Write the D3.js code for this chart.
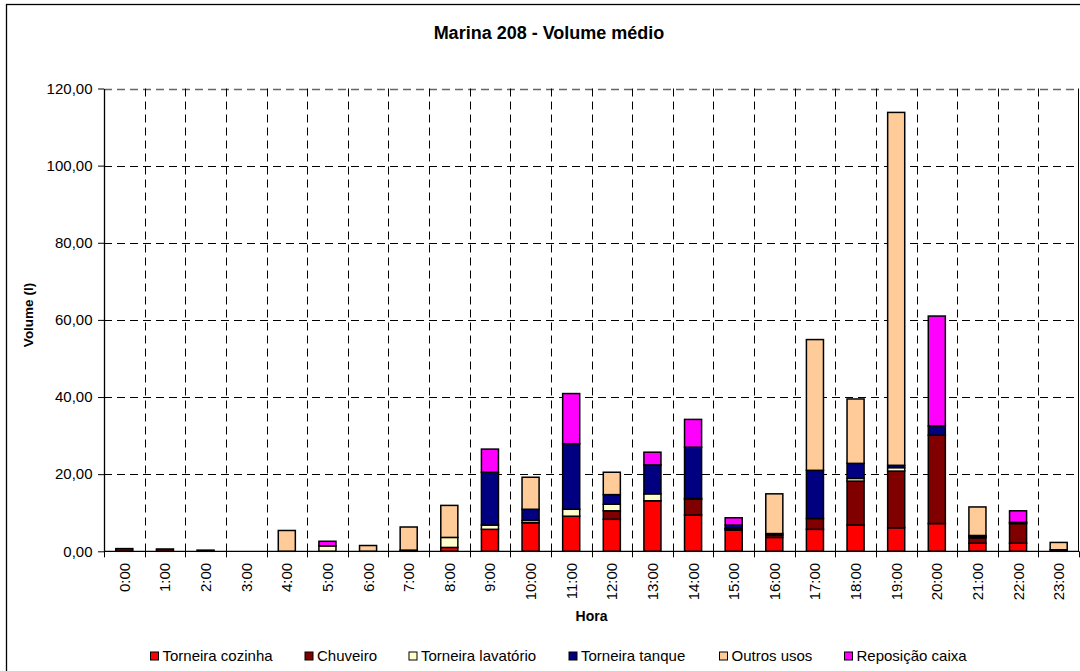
<!DOCTYPE html>
<html><head><meta charset="utf-8">
<script src="https://cdn.jsdelivr.net/npm/d3@7"></script>
<style>
body{margin:0;background:#fff;}
svg{display:block;font-family:"Liberation Sans",Arial,sans-serif;}
</style></head>
<body><svg id="c" width="1080" height="671"></svg>
<script>
const hours = ["0:00","1:00","2:00","3:00","4:00","5:00","6:00","7:00","8:00","9:00","10:00","11:00","12:00","13:00","14:00","15:00","16:00","17:00","18:00","19:00","20:00","21:00","22:00","23:00"];
const seriesNames = ["Torneira cozinha","Chuveiro","Torneira lavatório","Torneira tanque","Outros usos","Reposição caixa"];
const torneiraCozinha   = [0,0,0,0,0,0,0,0,1.0,5.7,7.4,9.1,8.3,13.1,9.4,5.5,3.6,5.7,6.8,6.1,7.2,2.1,2.1,0];
const chuveiro          = [0.7,0.6,0.3,0,0,0,0,0,0,0,0,0,2.2,0,4.1,0.3,0.6,2.8,11.4,14.7,22.9,1.4,5.1,0.4];
const torneiraLavatorio = [0,0,0,0,0,1.4,0,0.3,2.6,1.1,0.6,1.8,1.7,1.8,0.2,0.2,0,0,0.7,0.9,0,0.3,0,0];
const torneiraTanque    = [0,0,0,0,0,0,0,0,0,13.7,2.9,17.0,2.5,7.5,13.3,0.8,0.4,12.5,3.9,0.6,2.4,0.3,0.3,0];
const outrosUsos        = [0,0,0,0,5.4,0,1.5,6.0,8.3,0,8.3,0,5.8,0,0,0,10.3,33.9,16.7,91.5,0,7.4,0,1.9];
const reposicaoCaixa    = [0,0,0,0,0,1.2,0,0,0,6.0,0,13.0,0,3.3,7.2,1.9,0,0,0,0,28.5,0,3.0,0];
const yTicks = [0,20,40,60,80,100,120];
const colors = ["#FF0000","#800000","#FFFFCC","#000080","#FFCC99","#FF00FF"];

const seriesArrays = [torneiraCozinha,chuveiro,torneiraLavatorio,torneiraTanque,outrosUsos,reposicaoCaixa];
const table = hours.map((h,i)=>{const o={hora:h}; seriesNames.forEach((s,k)=>o[s]=seriesArrays[k][i]); return o;});

const svg = d3.select("#c");
const L=104, R=1079, T=88.5, B=551.3;
const x = d3.scaleBand().domain(hours).range([L,R]).paddingInner(0).paddingOuter(0);
const y = d3.scaleLinear().domain([0,120]).range([B,T]);
const fmt = v => d3.format(".2f")(v).replace(".",",");

// outer frame
svg.append("rect").attr("x",6.5).attr("y",4.5).attr("width",1200).attr("height",800)
  .attr("fill","#fff").attr("stroke","#000").attr("stroke-width",1.3);

// title
svg.append("text").attr("x",549).attr("y",39).attr("text-anchor","middle")
  .attr("font-size",18).attr("font-weight","bold").text("Marina 208 - Volume médio");

// horizontal grid
svg.append("g").selectAll("line").data(yTicks.filter(d=>d>0)).join("line")
  .attr("x1",L).attr("x2",R).attr("y1",d=>Math.round(y(d))+0.5).attr("y2",d=>Math.round(y(d))+0.5)
  .attr("stroke",d=>d===120?"#666":"#000").attr("stroke-width",d=>d===120?1.5:1)
  .attr("stroke-dasharray","8,5");

// vertical grid
svg.append("g").selectAll("line").data(hours.slice(1)).join("line")
  .attr("x1",d=>Math.round(x(d))+0.5).attr("x2",d=>Math.round(x(d))+0.5)
  .attr("y1",T).attr("y2",B)
  .attr("stroke","#000").attr("stroke-width",1).attr("stroke-dasharray","8,5");

// right border
svg.append("line").attr("x1",R-0.5).attr("x2",R-0.5).attr("y1",T).attr("y2",B).attr("stroke","#000");

// stacked bars
const stack = d3.stack().keys(seriesNames);
const stacked = stack(table);
const bw = x.bandwidth()*0.42;
svg.append("g").selectAll("g").data(stacked).join("g")
  .attr("fill",(d,i)=>colors[i])
  .selectAll("rect").data(d=>d.filter(p=>p[1]-p[0]>0)).join("rect")
  .attr("x",d=>x(d.data.hora)+(x.bandwidth()-bw)/2)
  .attr("width",bw)
  .attr("y",d=>y(d[1]))
  .attr("height",d=>Math.max(0.5,y(d[0])-y(d[1])))
  .attr("stroke","#000").attr("stroke-width",1.5);

// y axis
const ya = svg.append("g").attr("transform",`translate(${L},0)`)
  .call(d3.axisLeft(y).tickValues(yTicks).tickFormat(fmt).tickSize(6).tickSizeOuter(0));
ya.select(".domain").attr("stroke","#000").attr("stroke-width",1.3);
ya.selectAll("text").attr("font-size",15).attr("fill","#000").attr("font-family","Liberation Sans, Arial, sans-serif").attr("x",-11.5);

// x axis
const xa = svg.append("g").attr("transform",`translate(0,${B})`);
xa.append("line").attr("x1",L).attr("x2",R).attr("stroke","#000").attr("stroke-width",1.3);
xa.selectAll("line.tk").data(hours.concat(["end"])).join("line").attr("class","tk")
  .attr("x1",(d,i)=>Math.round(L+i*x.step())+0.5).attr("x2",(d,i)=>Math.round(L+i*x.step())+0.5)
  .attr("y1",0).attr("y2",6).attr("stroke","#000");
xa.selectAll("text").data(hours).join("text")
  .attr("transform",d=>`translate(${x(d)+x.bandwidth()/2+5.5},11.5) rotate(-90)`)
  .attr("text-anchor","end").attr("font-size",15).text(d=>d);

// axis titles
svg.append("text").attr("x",591.5).attr("y",620.5).attr("text-anchor","middle")
  .attr("font-size",14).attr("font-weight","bold").text("Hora");
svg.append("text").attr("transform","translate(33,315) rotate(-90)").attr("text-anchor","middle")
  .attr("font-size",13.5).attr("font-weight","bold").text("Volume (l)");

// legend
const legX = [150,304.5,408.5,568.5,719,844];
const lg = svg.append("g").selectAll("g").data(seriesNames).join("g")
  .attr("transform",(d,i)=>`translate(${legX[i]},651.5)`);
lg.append("rect").attr("x",0.5).attr("y",0.5).attr("width",8).attr("height",8)
  .attr("fill",(d,i)=>colors[i]).attr("stroke","#000").attr("stroke-width",1);
lg.append("text").attr("x",12.5).attr("y",9.5).attr("font-size",15).text(d=>d);
</script></body></html>
